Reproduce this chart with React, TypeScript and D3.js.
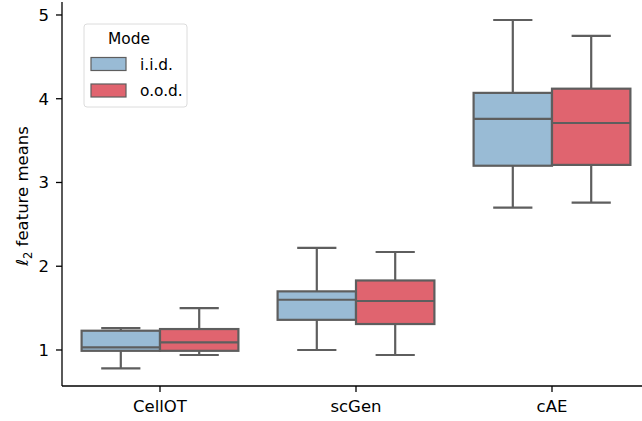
import React from "react";
import * as d3 from "d3";

const categories = ["CellOT", "scGen", "cAE"];
const modes = ["i.i.d.", "o.o.d."];
// [whiskerLow, q1, median, q3, whiskerHigh]
const iidStats = [
  [0.78, 0.99, 1.03, 1.23, 1.26],
  [1.0, 1.36, 1.6, 1.7, 2.22],
  [2.7, 3.2, 3.76, 4.07, 4.94],
];
const oodStats = [
  [0.94, 0.99, 1.09, 1.25, 1.5],
  [0.94, 1.31, 1.585, 1.83, 2.17],
  [2.76, 3.21, 3.71, 4.12, 4.75],
];
const yTicks = [1, 2, 3, 4, 5];
const modeColors = ["#99bbd5", "#e0646f"];

export default function App() {
  const W = 642, H = 421;
  const left = 62, bottom = 386, top = 2;
  const y = d3.scaleLinear().domain([0.57, 5.155]).range([bottom, top]);
  const x = d3.scaleBand().domain(categories).range([left, left + 588]).paddingInner(0).paddingOuter(0);
  const hue = d3.scaleBand().domain(modes).range([0.1, 0.9]).padding(0);
  const edge = "#5e5e5e";
  const series = [iidStats, oodStats];
  const font = "DejaVu Sans, sans-serif";

  return (
    <svg width={W} height={H} style={{ position: "absolute", left: 0, top: 0 }} fontFamily={font}>
      <rect width={W} height={H} fill="#fff" />
      {series.map((stats, si) =>
        categories.map((c, ci) => {
          const bw = x.bandwidth();
          const x0 = x(c)! + hue(modes[si])! * bw;
          const w = hue.bandwidth() * bw;
          const cx = x0 + w / 2;
          const [lo, q1, med, q3, hi] = stats[ci];
          const cap = w / 2;
          return (
            <g key={`${si}-${ci}`} stroke={edge} strokeWidth={2.2}>
              <line x1={cx} x2={cx} y1={y(q3)} y2={y(hi)} />
              <line x1={cx} x2={cx} y1={y(q1)} y2={y(lo)} />
              <line x1={cx - cap / 2} x2={cx + cap / 2} y1={y(hi)} y2={y(hi)} />
              <line x1={cx - cap / 2} x2={cx + cap / 2} y1={y(lo)} y2={y(lo)} />
              <rect x={x0} y={y(q3)} width={w} height={y(q1) - y(q3)} fill={modeColors[si]} />
              <line x1={x0} x2={x0 + w} y1={y(med)} y2={y(med)} />
            </g>
          );
        })
      )}
      {/* axes */}
      <line x1={left} x2={left} y1={top} y2={bottom} stroke="#000" strokeWidth={1.3} />
      <line x1={left} x2={W} y1={bottom} y2={bottom} stroke="#000" strokeWidth={1.3} />
      {yTicks.map((t) => (
        <g key={t}>
          <line x1={left - 6} x2={left} y1={y(t)} y2={y(t)} stroke="#000" strokeWidth={1.3} />
          <text x={left - 13} y={y(t)} dy="0.36em" textAnchor="end" fontSize={16.5}>
            {t}
          </text>
        </g>
      ))}
      {categories.map((c) => {
        const cx = x(c)! + x.bandwidth() / 2;
        return (
          <g key={c}>
            <line x1={cx} x2={cx} y1={bottom} y2={bottom + 6} stroke="#000" strokeWidth={1.3} />
            <text x={cx} y={bottom + 26} textAnchor="middle" fontSize={16.5}>
              {c}
            </text>
          </g>
        );
      })}
      <text transform={`translate(28,${(top + bottom) / 2 + 2}) rotate(-90)`} textAnchor="middle" fontSize={16.5}>
        <tspan fontStyle="italic">ℓ</tspan>
        <tspan fontSize={11.5} dy={4}>2</tspan>
        <tspan dy={-4}> feature means</tspan>
      </text>
      {/* legend */}
      <g>
        <rect x={84} y={24} width={103} height={83} rx={3} fill="#fff" fillOpacity={0.8} stroke="#dcdcdc" />
        <text x={129} y={44} textAnchor="middle" fontSize={15.4}>Mode</text>
        {modes.map((m, i) => (
          <g key={m}>
            <rect x={91} y={57.5 + i * 26.5} width={35} height={13} fill={modeColors[i]} stroke={edge} strokeWidth={1.2} />
            <text x={140} y={64 + i * 26.5} dy="0.36em" fontSize={15.4}>{m}</text>
          </g>
        ))}
      </g>
    </svg>
  );
}
